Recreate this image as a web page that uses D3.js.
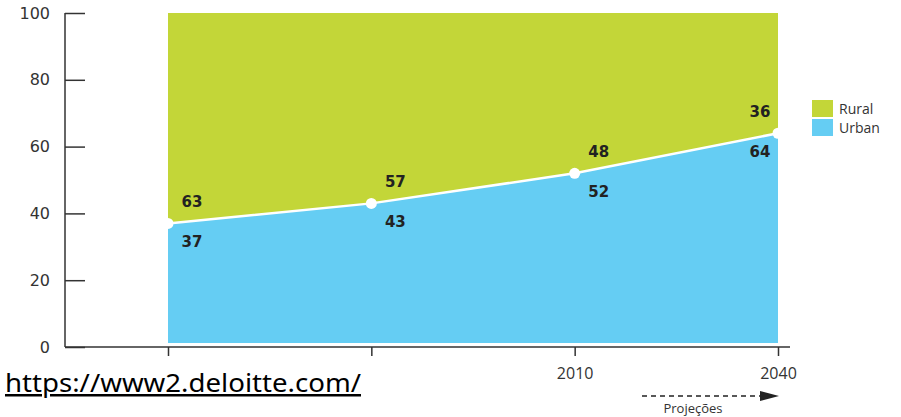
<!DOCTYPE html>
<html><head><meta charset="utf-8">
<script src="https://cdn.jsdelivr.net/npm/d3@7"></script>
<style>body{margin:0;background:#fff}svg{display:block}</style>
</head><body>
<svg id="c" width="901" height="417"></svg>
<script>
const categories = ["", "", "2010", "2040"];
const urban = [37, 43, 52, 64];
const rural = [63, 57, 48, 36];
const yTicks = [0, 20, 40, 60, 80, 100];
const seriesNames = ["Rural", "Urban"];
const colors = {Rural: "#c3d638", Urban: "#65cdf3"};

const svg = d3.select("#c");
const x = d3.scalePoint().domain(d3.range(categories.length)).range([168, 778]);
const y = d3.scaleLinear().domain([0, 100]).range([347, 13]);

const data = categories.map((c, i) => ({i, u: urban[i], r: rural[i]}));

svg.append("path").datum(data)
  .attr("fill", colors.Rural)
  .attr("d", d3.area().x(d => x(d.i)).y0(d => y(d.u)).y1(d => y(d.u + d.r)));
svg.append("path").datum(data)
  .attr("fill", colors.Urban)
  .attr("d", d3.area().x(d => x(d.i)).y0(y(0) - 4).y1(d => y(d.u)));
svg.append("path").datum(data)
  .attr("fill", "none").attr("stroke", "#fff").attr("stroke-width", 2.5)
  .attr("d", d3.line().x(d => x(d.i)).y(d => y(d.u)));
svg.selectAll("circle.pt").data(data).enter().append("circle")
  .attr("cx", d => x(d.i)).attr("cy", d => y(d.u)).attr("r", 5.5).attr("fill", "#fff");

const lab = svg.append("g").attr("font-family", "Verdana, 'DejaVu Sans', sans-serif")
  .attr("font-size", 15).attr("font-weight", "bold").attr("fill", "#222");
lab.selectAll("text.r").data(data).enter().append("text")
  .attr("x", d => x(d.i) + (d.i === 3 ? -18 : 24)).attr("y", d => y(d.u) - 16)
  .attr("text-anchor", "middle").text(d => d.r);
lab.selectAll("text.u").data(data).enter().append("text")
  .attr("x", d => x(d.i) + (d.i === 3 ? -18 : 24)).attr("y", d => y(d.u) + 24)
  .attr("text-anchor", "middle").text(d => d.u);

const yAxis = d3.axisRight(y).tickValues(yTicks).tickSize(20).tickFormat(d3.format("d"));
const gy = svg.append("g").attr("transform", "translate(65,0)").call(yAxis);
gy.select(".domain").attr("stroke", "#333").attr("stroke-width", 1.5).attr("d", "M0,13V347");
gy.selectAll(".tick line").attr("stroke", "#333").attr("stroke-width", 1.5);
gy.selectAll(".tick text").attr("x", -15).attr("text-anchor", "end")
  .attr("font-family", "Verdana, 'DejaVu Sans', sans-serif").attr("font-size", 16).attr("fill", "#333");

const xAxis = d3.axisBottom(x).tickSize(9).tickFormat(i => categories[i]);
const gx = svg.append("g").attr("transform", "translate(0,347)").call(xAxis);
gx.select(".domain").attr("stroke", "#333").attr("stroke-width", 1.5).attr("d", "M65,0H790");
gx.selectAll(".tick line").attr("stroke", "#333").attr("stroke-width", 1.5);
gx.selectAll(".tick text").attr("y", 21)
  .attr("font-family", "'Open Sans', sans-serif").attr("font-size", 16).attr("fill", "#333");

const lg = svg.append("g").attr("transform", "translate(812,100)");
seriesNames.forEach((s, k) => {
  lg.append("rect").attr("x", 0).attr("y", k * 19).attr("width", 21).attr("height", 17).attr("fill", colors[s]);
  lg.append("text").attr("x", 27).attr("y", k * 19 + 14).text(s)
    .attr("font-family", "'Open Sans', sans-serif").attr("font-size", 14).attr("fill", "#333");
});

const arr = svg.append("g");
arr.append("line").attr("x1", 642).attr("x2", 762).attr("y1", 396).attr("y2", 396)
  .attr("stroke", "#222").attr("stroke-width", 1.3).attr("stroke-dasharray", "5,4");
arr.append("path").attr("d", "M760,391L779,396L760,401Z").attr("fill", "#222");
arr.append("text").attr("x", 693).attr("y", 413).attr("text-anchor", "middle")
  .attr("font-family", "'Open Sans', sans-serif").attr("font-size", 13).attr("fill", "#333").text("Projeções");

svg.append("text").attr("x", 5).attr("y", 392).attr("font-family", "'Noto Sans', sans-serif")
  .attr("font-size", 25).attr("fill", "#000").attr("text-decoration", "underline")
  .attr("textLength", 356).attr("lengthAdjust", "spacingAndGlyphs")
  .text("https://www2.deloitte.com/");
</script>
</body></html>
